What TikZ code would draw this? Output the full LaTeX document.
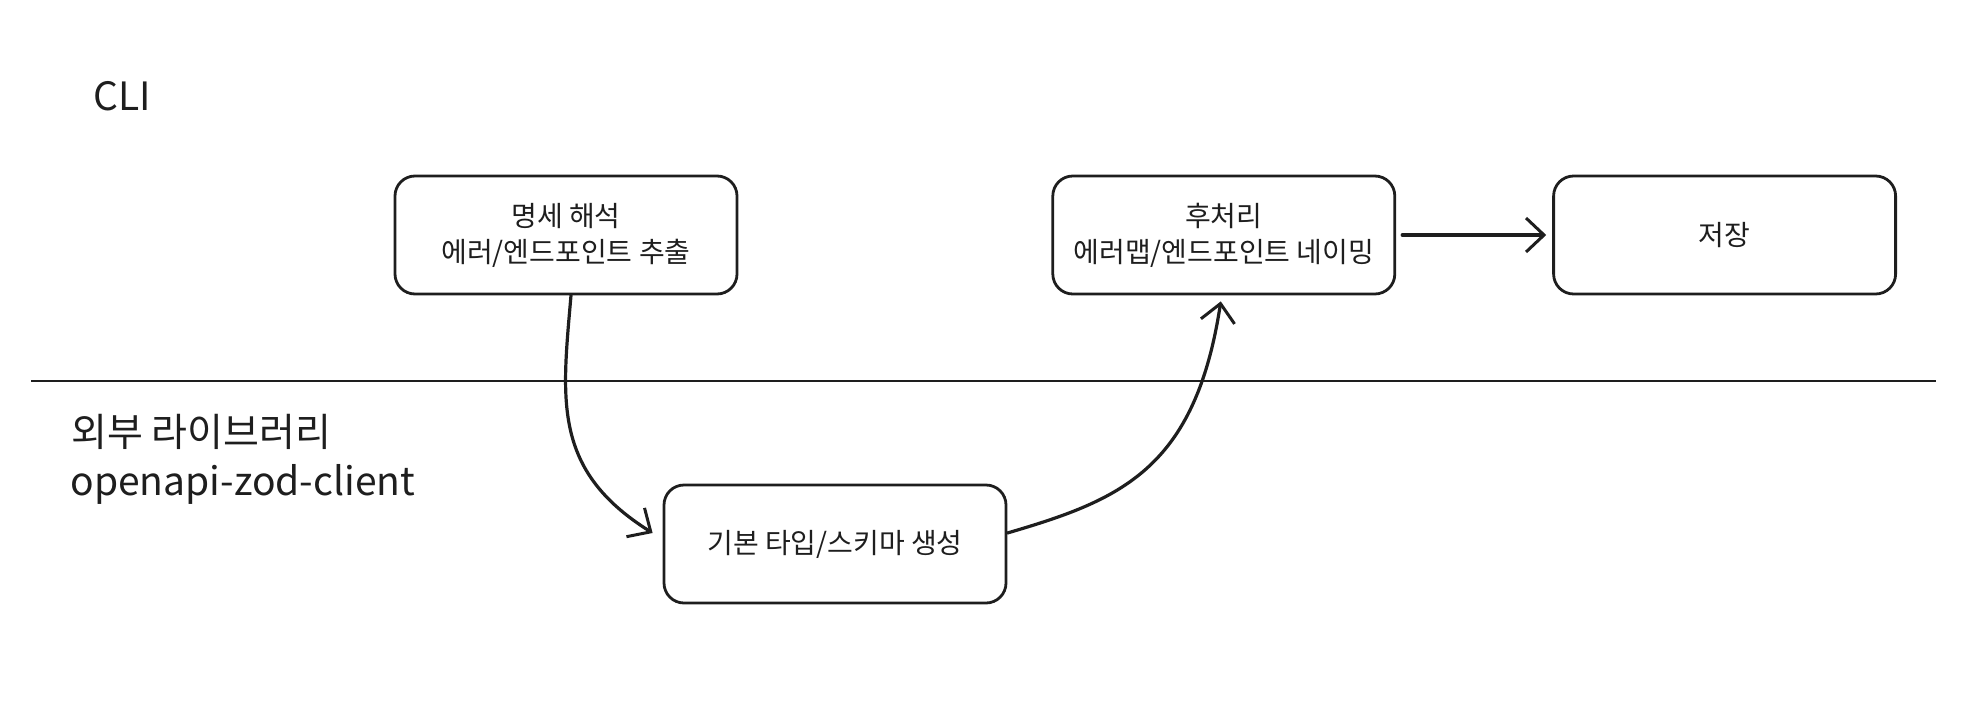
\documentclass[tikz,border=0pt]{standalone}
\usepackage{fontspec}
\setmainfont{Noto Sans CJK KR}
\usetikzlibrary{positioning}
\usetikzlibrary{arrows.meta}
\definecolor{ink}{HTML}{1E1E1E}

\begin{document}
\begin{tikzpicture}[x=1pt,y=-1pt,line width=2.8pt,color=ink,
blocco/.style={draw,rounded corners=20pt,minimum width=342pt,minimum height=118pt,align=center,font=\fontsize{28}{36}\selectfont},
etichetta/.style={anchor=base west,inner sep=0pt,font=\fontsize{39}{42}\selectfont},
freccia/.style={-{Straight Barb[length=18pt,width=34pt,line width=3pt]},line width=3.2pt,line cap=round}
]
\useasboundingbox (0,0) rectangle (1970,726);
%--
\node[etichetta](cli) at (92,110){CLI};
\node[etichetta](ext) at (70,446){외부 라이브러리};
\node[etichetta](lib) at (69,495){openapi-zod-client};
%--
\draw (31,381) -- (1936,381);
%--
\node[blocco](spec) at (566,235){명세 해석\\에러/엔드포인트 추출};
\node[blocco,right=313pt of spec](post){후처리\\에러맵/엔드포인트 네이밍};
\node[blocco,right=156pt of post](save){저장};
%--
\node[blocco](gen) at (835,544){기본 타입/스키마 생성};
%--
\draw[freccia] ([xshift=5pt]spec.south) .. controls (562,400) and (552,470) .. ([xshift=-10pt,yshift=11pt]gen.west);
\draw[freccia] ([yshift=11pt]gen.east) .. controls (1120,500) and (1195,470) .. ([xshift=-3pt,yshift=-6pt]post.south);
\draw[freccia] ([xshift=6pt]post.east) -- ([xshift=-6pt]save.west);
\end{tikzpicture}
\end{document}
